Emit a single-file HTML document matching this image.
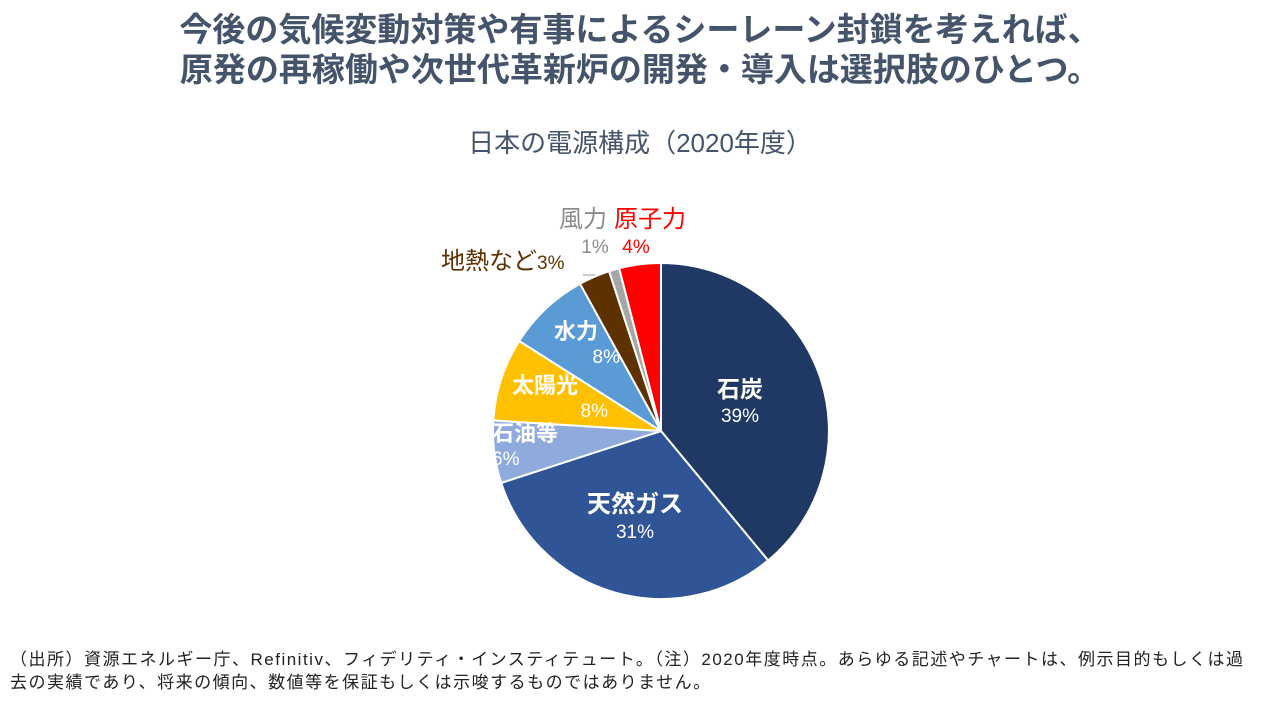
<!DOCTYPE html>
<html><head><meta charset="utf-8"><style>
body{margin:0;width:1280px;height:720px;background:#fff;overflow:hidden;font-family:"Liberation Sans","Noto Sans CJK JP",sans-serif;}
.t{position:absolute;left:0;width:1280px;text-align:center;color:#44546A;font-weight:bold;font-size:33px;line-height:40px;}
.s{position:absolute;left:0;width:1280px;text-align:center;color:#44546A;font-size:26px;top:123px;}
.f{position:absolute;left:10px;top:648px;width:1275px;font-size:17px;color:#222;line-height:23px;letter-spacing:1.5px;white-space:nowrap;}
.l{position:absolute;text-align:center;white-space:nowrap;line-height:1.1;}
.w{color:#fff;font-weight:bold;}
.w span.p{font-weight:normal;font-size:19px;}
</style></head><body>
<div class="t" style="top:10px">今後の気候変動対策や有事によるシーレーン封鎖を考えれば、</div>
<div class="t" style="top:50px">原発の再稼働や次世代革新炉の開発・導入は選択肢のひとつ。</div>
<div class="s">日本の電源構成（2020年度）</div>
<svg width="1280" height="720" style="position:absolute;left:0;top:0">
<g stroke="#fff" stroke-width="2" stroke-linejoin="round">
<path d="M661 431L661 263A168 168 0 0 1 768.1 560.4Z" fill="#203864"/>
<path d="M661 431L768.1 560.4A168 168 0 0 1 501.2 482.9Z" fill="#2F5597"/>
<path d="M661 431L501.2 482.9A168 168 0 0 1 493.3 420.4Z" fill="#8FAADC"/>
<path d="M661 431L493.3 420.4A168 168 0 0 1 519.2 341Z" fill="#FFC000"/>
<path d="M661 431L519.2 341A168 168 0 0 1 580.1 283.8Z" fill="#5B9BD5"/>
<path d="M661 431L580.1 283.8A168 168 0 0 1 609.1 271.2Z" fill="#5E3100"/>
<path d="M661 431L609.1 271.2A168 168 0 0 1 619.2 268.3Z" fill="#A6A6A6"/>
<path d="M661 431L619.2 268.3A168 168 0 0 1 661 263Z" fill="#FF0000"/>
</g>
<line x1="583" y1="275" x2="595" y2="275" stroke="#999" stroke-width="1"/>
</svg>
<div class="l w" style="left:700px;top:377px;font-size:23px;width:80px">石炭<br><span class="p">39%</span></div>
<div class="l w" style="left:565px;top:492px;font-size:24px;width:140px">天然ガス<br><span class="p">31%</span></div>
<div class="l w" style="left:492px;top:422px;font-size:22px;text-align:left">石油等<br><span class="p">6%</span></div>
<div class="l w" style="left:498px;top:374px;font-size:22px;text-align:right;width:110px"><span style="position:relative;left:-30px">太陽光</span><br><span class="p">8%</span></div>
<div class="l w" style="left:540px;top:320px;font-size:22px;width:80px;text-align:right"><span style="position:relative;left:-22px">水力</span><br><span class="p">8%</span></div>
<div class="l" style="left:441px;top:249px;color:#5E3100;font-size:24px">地熱など<span style="font-size:19px">3%</span></div>
<div class="l" style="left:559px;top:207px;color:#8c8c8c;font-size:24px">風力<br><span style="font-size:19px;position:relative;left:12px">1%</span></div>
<div class="l" style="left:614px;top:207px;color:#FF0000;font-size:24px">原子力<br><span style="font-size:19px;position:relative;left:-14px">4%</span></div>
<div class="f">（出所）資源エネルギー庁、Refinitiv、フィデリティ・インスティテュート。（注）2020年度時点。あらゆる記述やチャートは、例示目的もしくは過<br>去の実績であり、将来の傾向、数値等を保証もしくは示唆するものではありません。</div>
</body></html>
